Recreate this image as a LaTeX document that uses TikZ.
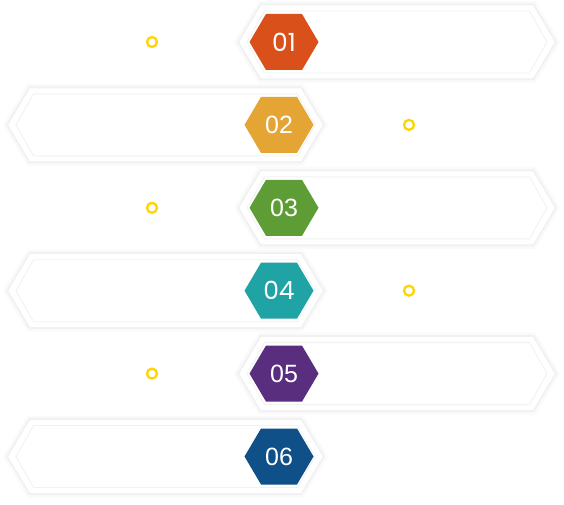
\documentclass[tikz,border=0pt]{standalone}
\usepackage{fontspec}
\usepackage{tikz}
\usetikzlibrary{calc}
\newfontfamily\numpop{Poppins}
\newfontfamily\numlib{Liberation Sans}
\definecolor{HexOne}{HTML}{D9501B}
\definecolor{HexTwo}{HTML}{E5A535}
\definecolor{HexThree}{HTML}{5E9C36}
\definecolor{HexFour}{HTML}{20A3A5}
\definecolor{HexFive}{HTML}{5A2E7E}
\definecolor{HexSix}{HTML}{0E5087}
\definecolor{RingGold}{HTML}{FFD500}

\tikzset{
  barhalo/.style={draw=black,draw opacity=.02,line width=12pt,line join=miter},
  barshade/.style={draw=black,draw opacity=.035,line width=7pt,line join=miter},
  barbody/.style={fill=white,draw=white,line width=3pt,line join=miter},
  barinner/.style={draw=black!5,line width=.9pt,line join=miter},
  hexnum/.style={text=white,inner sep=0pt},
  ring/.style={circle,draw=RingGold,line width=2.3pt,minimum size=10pt,inner sep=0pt}
}

\begin{document}
\begin{tikzpicture}[x=1pt,y=-1pt]
  \useasboundingbox (0,0) rectangle (564,505);
  \fill[white] (0,0) rectangle (564,505);

  % Filas alternadas: barras a derecha (impares) y a izquierda (pares).
  \foreach \i/\hx/\xl/\xr/\dx/\col/\fnt in {
      1/284/241/553/152/HexOne/\numpop,
      2/279/10/321/409/HexTwo/\numlib,
      3/284/241/553/152/HexThree/\numlib,
      4/279/10/321/409/HexFour/\numpop,
      5/284/241/553/152/HexFive/\numlib,
      6/279/10/321/409/HexSix/\numlib}{
    \pgfmathsetmacro\cy{42+82.9*(\i-1)}
    \foreach \st in {barhalo,barshade,barbody}
      \draw[\st] (\xl,\cy) -- (\xl+21,\cy-35) -- (\xr-21,\cy-35) -- (\xr,\cy)
        -- (\xr-21,\cy+35) -- (\xl+21,\cy+35) -- cycle;
    \draw[barinner] (\xl+6,\cy) -- (\xl+23.5,\cy-31) -- (\xr-23.5,\cy-31) -- (\xr-6,\cy)
      -- (\xr-23.5,\cy+31) -- (\xl+23.5,\cy+31) -- cycle;

    % Hexágono de color con el número.
    \fill[\col] (\hx-34.5,\cy) -- (\hx-18,\cy-28) -- (\hx+18,\cy-28) -- (\hx+34.5,\cy)
      -- (\hx+18,\cy+28) -- (\hx-18,\cy+28) -- cycle;
    \node[hexnum,font=\fnt\fontsize{25}{27}\selectfont] (num\i) at (\hx,\cy) {0\i};

    \ifnum\i<6
      \node[ring] (dot\i) at (\dx,\cy) {};
    \fi
  }
\end{tikzpicture}
\end{document}
